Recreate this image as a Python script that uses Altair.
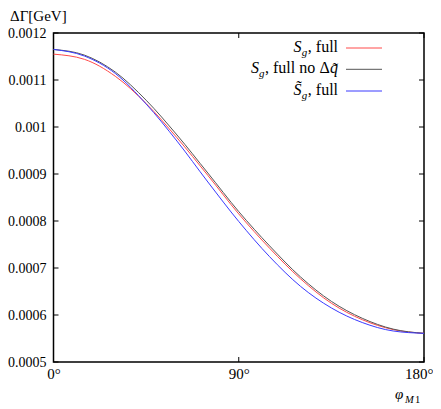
import altair as alt
import pandas as pd

# ---- data (Delta Gamma in 1e-3 GeV vs phi_M1 in degrees) ----
phi = [0, 15, 30, 45, 60, 75, 90, 105, 120, 135, 150, 165, 180]
red_full = [1.155, 1.144, 1.108, 1.050, 0.977, 0.897, 0.815, 0.742, 0.677, 0.625, 0.590, 0.569, 0.561]
black_nodq = [1.165, 1.153, 1.117, 1.057, 0.983, 0.902, 0.820, 0.747, 0.681, 0.629, 0.593, 0.570, 0.561]
blue_tilde = [1.165, 1.151, 1.114, 1.049, 0.970, 0.883, 0.799, 0.724, 0.661, 0.615, 0.584, 0.566, 0.561]
scale_factor = 1e-3

series_colors = ["#ff4a4a", "#555555", "#3a3aff"]
y_ticks = [0.0005, 0.0006, 0.0007, 0.0008, 0.0009, 0.001, 0.0011, 0.0012]
x_ticks = [0, 90, 180]
y_title = "ΔΓ[GeV]"

W, H = 370.5, 329
FONT = "Liberation Serif"

xs = alt.Scale(domain=[0, 180], nice=False, zero=False)
ys = alt.Scale(domain=[0.0005, 0.0012], nice=False, zero=False)

x_axis = alt.Axis(values=x_ticks, labelExpr="datum.value + '°'", title=None, grid=False,
                  ticks=False, tickSize=0, domain=False, labelFont=FONT, labelFontSize=15,
                  labelColor="black", labelPadding=4, labelFlush=False,
                  labelAlign={"condition": {"test": "datum.value == 180", "value": "right"},
                              "value": "center"},
                  labelOffset={"condition": {"test": "datum.value == 180", "value": 9},
                               "value": 0})
y_axis = alt.Axis(values=y_ticks, format="~g", title=None, grid=False, ticks=False, tickSize=0,
                  domain=False, labelFont=FONT, labelFontSize=14, labelColor="black",
                  labelPadding=7.5)

layers = []
for vals, col in zip([red_full, black_nodq, blue_tilde], series_colors):
    df = pd.DataFrame({"phi": phi, "val": [v * scale_factor for v in vals]})
    layers.append(
        alt.Chart(df).mark_line(strokeWidth=1, interpolate="monotone", color=col).encode(
            x=alt.X("phi:Q", scale=xs, axis=x_axis),
            y=alt.Y("val:Q", scale=ys, axis=y_axis),
        )
    )

# inward tick marks (gnuplot style) on all four sides
ydf = pd.DataFrame({"v": y_ticks})
xdf = pd.DataFrame({"p": x_ticks})
TL = 5
layers.append(alt.Chart(ydf).mark_rule(color="black", strokeWidth=1).encode(
    y=alt.Y("v:Q", scale=ys, axis=y_axis), x=alt.value(0), x2=alt.value(TL)))
layers.append(alt.Chart(ydf).mark_rule(color="black", strokeWidth=1).encode(
    y=alt.Y("v:Q", scale=ys, axis=y_axis), x=alt.value(W - TL), x2=alt.value(W)))
layers.append(alt.Chart(xdf).mark_rule(color="black", strokeWidth=1).encode(
    x=alt.X("p:Q", scale=xs, axis=x_axis), y=alt.value(H - TL), y2=alt.value(H)))
layers.append(alt.Chart(xdf).mark_rule(color="black", strokeWidth=1).encode(
    x=alt.X("p:Q", scale=xs, axis=x_axis), y=alt.value(0), y2=alt.value(TL)))


def text(t, x, y, size=15, italic=False, align="left"):
    return alt.Chart(pd.DataFrame({"t": [t]})).mark_text(
        font=FONT, fontSize=size, fontStyle="italic" if italic else "normal",
        align=align, baseline="alphabetic", color="black"
    ).encode(x=alt.value(x), y=alt.value(y), text="t:N")


# legend (top right, inside the frame)
leg_rows = [
    [("S", True, 16, 240, 0), ("g", True, 11, 248.3, 3.5), (", full", False, 16, 254.3, 0)],
    [("S", True, 16, 197.5, 0), ("g", True, 11, 205.5, 3.5), (", full no", False, 16, 211.5, 0),
     ("Δ", False, 16, 266, 0), ("q̃", True, 16, 276.5, 0)],
    [("S̃", True, 16, 240, 0), ("g", True, 11, 248.3, 3.5), (", full", False, 16, 254.3, 0)],
]
row_y = [15, 36.3, 58]
for pieces, ry, col in zip(leg_rows, row_y, series_colors):
    for (t, it, sz, px, dy) in pieces:
        layers.append(text(t, px, ry + 4 + dy, size=sz, italic=it))
    layers.append(alt.Chart(pd.DataFrame({"a": [0]})).mark_rule(color=col, strokeWidth=1).encode(
        x=alt.value(292.5), x2=alt.value(328.5), y=alt.value(ry)))

# axis titles
layers.append(text(y_title, -43.5, -12, size=15))
layers.append(text("φ", 341.5, 366, size=15, italic=True))
layers.append(text("M", 351.5, 370, size=10.5, italic=True))
layers.append(text("1", 361.5, 370, size=10.5))

chart = alt.layer(*layers).properties(
    width=W, height=H,
    padding={"left": 45.5, "top": 25, "right": 9, "bottom": 45},
    autosize=alt.AutoSizeParams(type="none"),
    background="white",
).configure_view(stroke="black", strokeWidth=1.5)

chart.save("out.html", embed_options={"renderer": "svg", "actions": False})
